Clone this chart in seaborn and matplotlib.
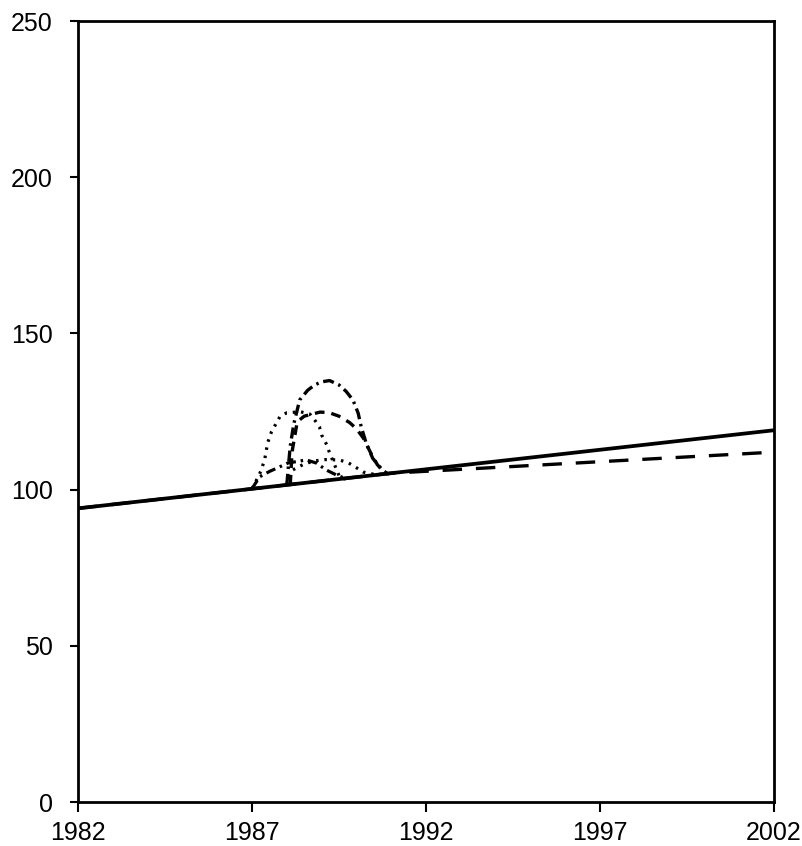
import matplotlib
matplotlib.use("Agg")
import matplotlib.pyplot as plt
import seaborn as sns

sns.set_theme(style="white")
plt.rcParams["font.family"] = ["Liberation Sans", "DejaVu Sans"]
plt.rcParams["lines.scale_dashes"] = False

# Long-run trend path and the lower alternative path after 1991
trend_years = [1982, 2002]
trend_values = [94, 119]
alt_years = [1982, 1991, 2002]
alt_values = [94, 105.25, 112]

# Temporary deviations around the late 1980s
dotted_big_years = [1987.0, 1987.15, 1987.27, 1987.37, 1987.45, 1987.56, 1987.8, 1988.0,
                    1988.4, 1988.66, 1988.8, 1988.94, 1989.0, 1989.15, 1989.23, 1989.37,
                    1989.5, 1989.7]
dotted_big_values = [100.3, 103.5, 106.3, 110.0, 115.0, 118.5, 123.3, 124.6,
                     124.9, 124.2, 122.3, 120.0, 117.5, 114.3, 111.7, 108.0,
                     104.5, 103.3]

dashdot_big_years = [1988.0, 1988.05, 1988.1, 1988.2, 1988.37, 1988.6, 1988.8, 1989.0,
                     1989.23, 1989.5, 1989.7, 1989.9, 1990.05, 1990.14, 1990.28, 1990.47,
                     1990.7, 1990.9]
dashdot_big_values = [101.5, 108.0, 114.0, 121.0, 128.7, 131.8, 133.5, 134.5,
                      134.9, 133.5, 131.5, 128.7, 124.5, 120.0, 114.9, 110.0,
                      106.9, 104.9]

dashed_mid_years = [1988.1, 1988.15, 1988.3, 1988.5, 1988.95, 1989.2, 1989.5, 1989.8,
                    1990.0, 1990.2, 1990.4, 1990.6, 1990.8, 1990.95]
dashed_mid_values = [101.6, 112.0, 121.7, 123.5, 124.8, 124.7, 123.5, 121.5,
                     119.5, 116.5, 112.0, 108.0, 105.5, 105.0]

dashdot_small_years = [1987.0, 1987.22, 1987.5, 1987.74, 1988.03, 1988.56, 1988.85,
                       1989.13, 1989.42, 1989.7]
dashdot_small_values = [100.3, 104.1, 105.8, 107.0, 108.5, 109.5, 108.5,
                        106.3, 104.7, 103.5]

dotted_small_years = [1988.0, 1988.03, 1988.17, 1988.5, 1988.8, 1989.1, 1989.5, 1989.75,
                      1990.0, 1990.2, 1990.5, 1990.8]
dotted_small_values = [101.5, 103.6, 106.3, 108.2, 109.2, 109.6, 109.5, 108.7,
                       107.0, 105.6, 104.9, 104.9]

x_ticks = [1982, 1987, 1992, 1997, 2002]
y_ticks = [0, 50, 100, 150, 200, 250]

fig = plt.figure(figsize=(8.03, 8.46), dpi=100)
ax = fig.add_axes([78 / 803, 1 - 802 / 846, (774 - 78) / 803, (802 - 21) / 846])

common = dict(ax=ax, color="black", sort=False, estimator=None)

sns.lineplot(x=alt_years, y=alt_values, linewidth=2.4,
             linestyle=(0, (14, 10)), **common)
sns.lineplot(x=trend_years, y=trend_values, linewidth=2.7,
             linestyle="-", **common)
sns.lineplot(x=dotted_big_years, y=dotted_big_values, linewidth=2.3,
             linestyle=(0, (1.8, 4.2)), **common)
sns.lineplot(x=dashdot_big_years, y=dashdot_big_values, linewidth=2.4,
             linestyle=(0, (8, 3.5, 1.8, 3.5)), **common)
sns.lineplot(x=dashed_mid_years, y=dashed_mid_values, linewidth=2.4,
             linestyle=(0, (7, 5)), **common)
sns.lineplot(x=dashdot_small_years, y=dashdot_small_values, linewidth=2.3,
             linestyle=(0, (7, 3.5, 1.8, 3.5)), **common)
sns.lineplot(x=dotted_small_years, y=dotted_small_values, linewidth=2.3,
             linestyle=(0, (1.8, 4.2)), **common)

ax.set_xlim(1982, 2002)
ax.set_ylim(0, 250)
ax.set_xticks(x_ticks)
ax.set_xticklabels([str(v) for v in x_ticks])
ax.set_yticks(y_ticks)
ax.set_yticklabels([str(v) for v in y_ticks])
ax.set_xlabel("")
ax.set_ylabel("")

for side in ["left", "right", "top", "bottom"]:
    ax.spines[side].set_visible(True)
    ax.spines[side].set_color("black")
    ax.spines[side].set_linewidth(2.0)

ax.tick_params(axis="x", direction="out", length=7.5, width=1.5, color="black",
               pad=6, labelsize=18, labelcolor="black", bottom=True)
ax.tick_params(axis="y", direction="out", length=6, width=1.5, color="black",
               pad=12, labelsize=18, labelcolor="black", left=True)
ax.grid(False)

fig.savefig("out.png", dpi=100, facecolor="white")
